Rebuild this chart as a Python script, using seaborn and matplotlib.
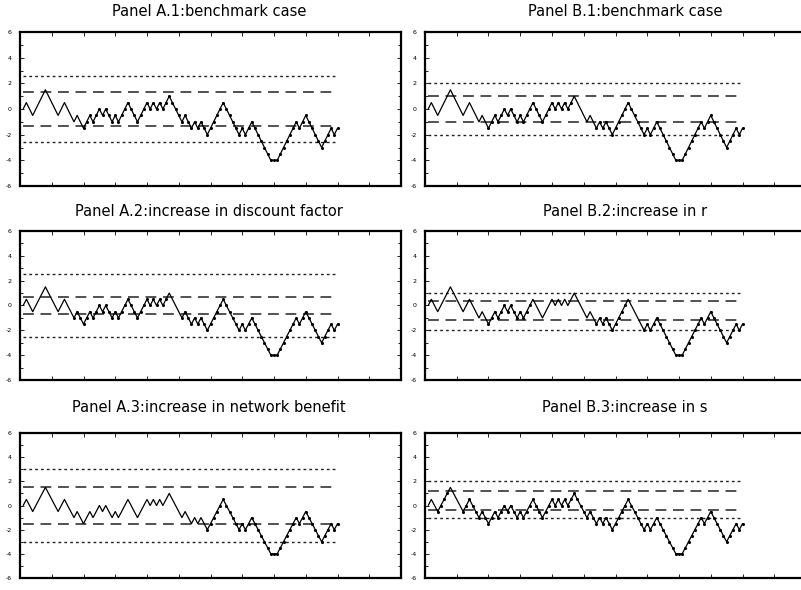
import matplotlib
matplotlib.use('Agg')
import matplotlib.pyplot as plt
import seaborn as sns
import pandas as pd
from matplotlib.ticker import MultipleLocator

# time axis and the simulated path (same path in every panel)
t = list(range(1, 101))
path = [0, 0.5, 0, -0.5, 0, 0.5, 1.0, 1.5, 1.0, 0.5,
        0, -0.5, 0, 0.5, 0, -0.5, -1.0, -0.5, -1.0, -1.5,
        -1.0, -0.5, -1.0, -0.5, 0, -0.5, 0, -0.5, -1.0, -0.5,
        -1.0, -0.5, 0, 0.5, 0, -0.5, -1.0, -0.5, 0, 0.5,
        0, 0.5, 0, 0.5, 0, 0.5, 1.0, 0.5, 0, -0.5,
        -1.0, -0.5, -1.0, -1.5, -1.0, -1.5, -1.0, -1.5, -2.0, -1.5,
        -1.0, -0.5, 0, 0.5, 0, -0.5, -1.0, -1.5, -2.0, -1.5,
        -2.0, -1.5, -1.0, -1.5, -2.0, -2.5, -3.0, -3.5, -4.0, -4.0,
        -4.0, -3.5, -3.0, -2.5, -2.0, -1.5, -1.0, -1.5, -1.0, -0.5,
        -1.0, -1.5, -2.0, -2.5, -3.0, -2.5, -2.0, -1.5, -2.0, -1.5]

# panels in order A.1, A.2, A.3, B.1, B.2, B.3
titles = ['Panel A.1:benchmark case',
          'Panel A.2:increase in discount factor',
          'Panel A.3:increase in network benefit',
          'Panel B.1:benchmark case',
          'Panel B.2:increase in r',
          'Panel B.3:increase in s']
inner_upper = [1.3, 0.67, 1.5, 1.0, 0.35, 1.2]
inner_lower = [-1.3, -0.67, -1.5, -1.0, -1.15, -0.35]
outer_upper = [2.55, 2.5, 3.0, 2.05, 1.0, 2.05]
outer_lower = [-2.55, -2.5, -3.0, -2.05, -2.0, -1.0]
# index ranges (inclusive) of the path where points are marked with dots
dot_ranges = [[(19, 99)],
              [(16, 45), (50, 99)],
              [(58, 99)],
              [(19, 45), (53, 99)],
              [(19, 32), (53, 62), (68, 99)],
              [(3, 6), (11, 99)]]

sns.set_style('white')
plt.rcParams['font.family'] = ['DejaVu Sans']
plt.rcParams['text.color'] = 'black'
plt.rcParams['xtick.color'] = 'black'
plt.rcParams['ytick.color'] = 'black'

W, H = 801, 590
fig = plt.figure(figsize=(W / 100, H / 100), dpi=100)

# axes boxes in pixels: left, top, right, bottom
col_x = [(20, 401), (425, 806)]
row_y = [(32, 186), (231, 380), (433, 578)]
title_x = [209, 625]
title_y = [12, 211, 407]

df = pd.DataFrame({'t': t, 'v': path})

for k in range(6):
    col = k // 3
    row = k % 3
    x0, x1 = col_x[col]
    y0, y1 = row_y[row]
    ax = fig.add_axes([x0 / W, 1 - y1 / H, (x1 - x0) / W, (y1 - y0) / H])

    for lvl in (outer_upper[k], outer_lower[k]):
        ax.hlines(lvl, t[0], t[-1], colors='#222222', linewidth=1.0,
                  linestyles=(0, (2.0, 2.2)))
    for lvl in (inner_upper[k], inner_lower[k]):
        ax.hlines(lvl, t[0], t[-1], colors='#333333', linewidth=1.2,
                  linestyles=(0, (6.5, 4.0)))

    sns.lineplot(data=df, x='t', y='v', ax=ax, color='black', linewidth=0.9)

    mask = [False] * len(path)
    for a, b in dot_ranges[k]:
        for i in range(a, b + 1):
            mask[i] = True
    sns.scatterplot(data=df[mask], x='t', y='v', ax=ax, color='black',
                    s=5, linewidth=0, zorder=3)

    ax.set_xlim(0, 120)
    ax.set_ylim(-6, 6)
    ax.xaxis.set_major_locator(MultipleLocator(10))
    ax.yaxis.set_major_locator(MultipleLocator(2))
    ax.yaxis.set_minor_locator(MultipleLocator(1))
    ax.tick_params(axis='both', which='both', direction='in', top=True,
                   right=True, bottom=True, left=True, width=0.6)
    ax.tick_params(axis='both', which='major', length=3)
    ax.tick_params(axis='both', which='minor', length=2)
    ax.tick_params(axis='y', labelsize=4.5, pad=6)
    ax.set_xticklabels([])
    ax.set_yticks([-6, -4, -2, 0, 2, 4, 6])
    ax.set_yticklabels(['-6', '-4', '-2', '0', '2', '4', '6'])
    ax.set_xlabel('')
    ax.set_ylabel('')
    for sp in ax.spines.values():
        sp.set_linewidth(1.6)
        sp.set_color('black')

    fig.text(title_x[col] / W, 1 - title_y[row] / H, titles[k],
             ha='center', va='center', fontsize=10.5, color='black')

fig.savefig('out.png', dpi=100)
